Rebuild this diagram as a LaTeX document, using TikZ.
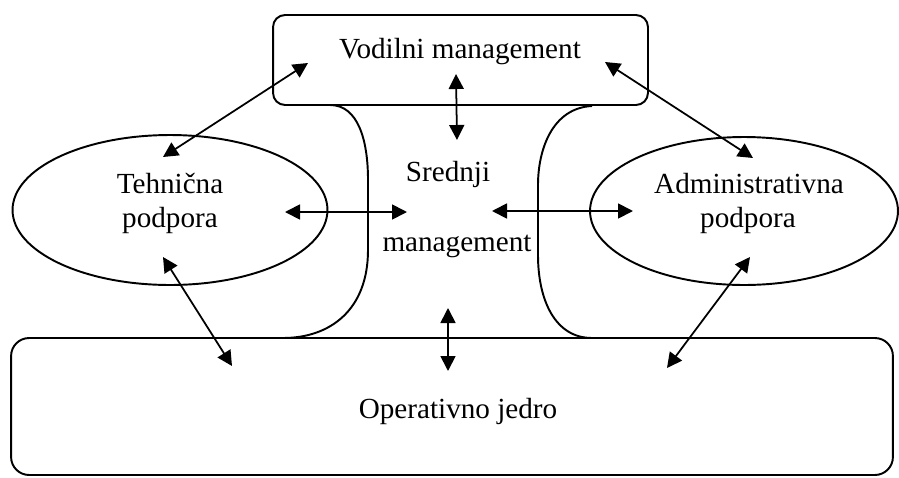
\documentclass[tikz,border=0pt]{standalone}
\usepackage{fontspec}
\setmainfont{Liberation Serif}
\usetikzlibrary{arrows.meta,shapes.geometric}
\tikzset{
  box/.style={draw,line width=1.1pt,rounded corners=#1,inner sep=0pt},
  oval/.style={draw,ellipse,line width=1.1pt,inner sep=0pt},
  txt/.style={anchor=base,inner sep=0pt,font=\fontsize{16.6}{20}\selectfont},
  arr/.style={{Triangle[length=0.3cm,width=0.3cm]}-{Triangle[length=0.3cm,width=0.3cm]},line width=1pt}
}
\begin{document}
\begin{tikzpicture}[x=0.02cm,y=-0.02cm]
\useasboundingbox (0,0) rectangle (899,477);
\node[box=0.24cm,minimum width=7.5cm,minimum height=1.8cm] (vodilni) at (460.5,60) {};
\node[box=0.36cm,minimum width=17.64cm,minimum height=2.74cm] (jedro) at (452,406.5) {};
\node[oval,minimum width=6.3cm,minimum height=3cm] (tehnicna) at (170,210) {};
\node[oval,minimum width=6.16cm,minimum height=2.96cm] (admin) at (744,211) {};
\draw[line width=1.1pt] (330,105) .. controls (358,105) and (368,140) .. (368,180) -- (368,250) .. controls (368,310) and (330,338) .. (283,338);
\draw[line width=1.1pt] (592,106) .. controls (552,108) and (538,150) .. (538,185) -- (538,255) .. controls (538,300) and (555,338) .. (592,338);
\node[txt] (vodilnitxt) at (460,58) {Vodilni management};
\node[txt] (tehnicnatxt) at (170,193) {Tehnična};
\node[txt] (tehnicnapod) at (170,227) {podpora};
\node[txt] (admintxt) at (749,193) {Administrativna};
\node[txt] (adminpod) at (748,227) {podpora};
\node[txt] (srednji) at (448,181) {Srednji};
\node[txt] (srednjiman) at (457,251) {management};
\node[txt] (jedrotxt) at (458,418) {Operativno jedro};
\coordinate (vodilni-l) at (308,63);
\coordinate (vodilni-r) at (605,62);
\coordinate (vodilni-s) at (456,74);
\coordinate (tehnicna-t) at (163,157);
\coordinate (tehnicna-r) at (285,212);
\coordinate (tehnicna-b) at (163,257);
\coordinate (admin-t) at (753,158);
\coordinate (admin-l) at (633,211);
\coordinate (admin-b) at (750,257);
\coordinate (srednji-t) at (457,140);
\coordinate (srednji-l) at (407,212);
\coordinate (srednji-r) at (492,211);
\coordinate (srednji-b) at (448,308);
\coordinate (jedro-l) at (232,366);
\coordinate (jedro-r) at (667,368);
\coordinate (jedro-s) at (448,371);
\draw[arr] (vodilni-l) -- (tehnicna-t);
\draw[arr] (vodilni-r) -- (admin-t);
\draw[arr] (vodilni-s) -- (srednji-t);
\draw[arr] (tehnicna-r) -- (srednji-l);
\draw[arr] (srednji-r) -- (admin-l);
\draw[arr] (tehnicna-b) -- (jedro-l);
\draw[arr] (admin-b) -- (jedro-r);
\draw[arr] (srednji-b) -- (jedro-s);
\end{tikzpicture}
\end{document}
